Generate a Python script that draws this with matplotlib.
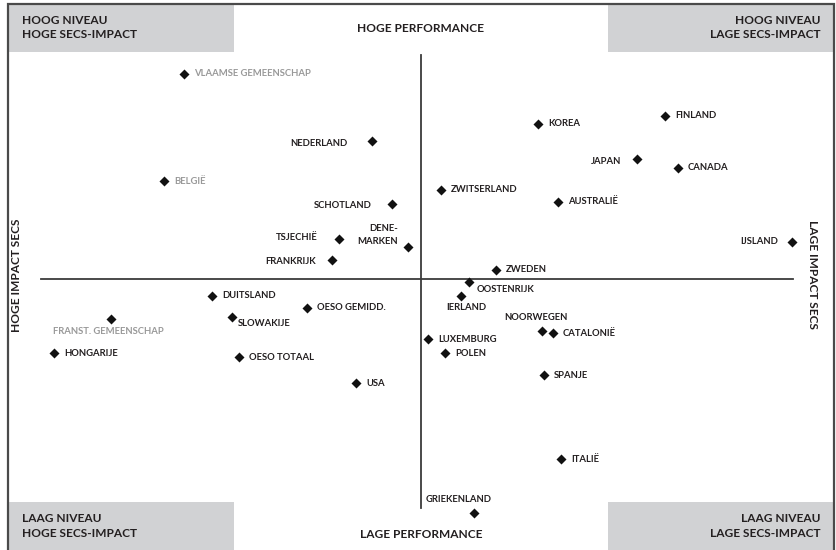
import matplotlib
matplotlib.use("Agg")
import matplotlib.pyplot as plt
from matplotlib.patches import Rectangle

plt.rcParams['font.family'] = ['Lato', 'DejaVu Sans']

# ======================= Data: SECS impact (x) vs performance (y) ======================================
countries = ['VLAAMSE GEMEENSCHAP', 'NEDERLAND', 'BELGIË', 'KOREA', 'FINLAND', 'JAPAN', 'CANADA',
             'ZWITSERLAND', 'AUSTRALIË', 'SCHOTLAND', 'TSJECHIË', 'DENE-\nMARKEN', 'FRANKRIJK',
             'IJSLAND', 'ZWEDEN', 'OOSTENRIJK', 'IERLAND', 'NOORWEGEN', 'CATALONIË', 'LUXEMBURG',
             'POLEN', 'SPANJE', 'DUITSLAND', 'OESO GEMIDD.', 'SLOWAKIJE', 'FRANST. GEMEENSCHAP',
             'HONGARIJE', 'OESO TOTAAL', 'USA', 'ITALIË', 'GRIEKENLAND']
impact = [-237, -49, -257, 117, 244, 216, 257,
          20, 137, -29, -82, -13, -89,
          371, 75, 48, 40, 121, 132, 7,
          24, 123, -209, -114, -189, -310,
          -367, -182, -65, 140, 53]
performance = [205, 138, 98, 155, 163, 120, 111,
               89, 77, 75, 40, 32, 19,
               37, 9, -3, -17, -52, -54, -60,
               -74, -96, -17, -29, -38, -40,
               -74, -78, -104, -180, -234]
grey_labels = ['VLAAMSE GEMEENSCHAP', 'BELGIË', 'FRANST. GEMEENSCHAP']

# label placement (offset in pixels, horizontal alignment); default is right of the marker
label_pos = {
    'NEDERLAND': (-24, -3, 'right'),
    'JAPAN': (-16, -2, 'right'),
    'SCHOTLAND': (-20, -1, 'right'),
    'TSJECHIË': (-21, 1, 'right'),
    'DENE-\nMARKEN': (-10, 12, 'right'),
    'FRANKRIJK': (-16, -1, 'right'),
    'IJSLAND': (-14, 0, 'right'),
    'OOSTENRIJK': (8, -7, 'left'),
    'IERLAND': (5, -11, 'center'),
    'NOORWEGEN': (-6, 13, 'center'),
    'SLOWAKIJE': (6, -6, 'left'),
    'FRANST. GEMEENSCHAP': (-3, -12, 'center'),
    'GRIEKENLAND': (-15, 14, 'center'),
}

x_min, x_max = -421, 416
y_min, y_max = -271, 279

fig = plt.figure(figsize=(8.37, 5.5), dpi=100)
ax = fig.add_axes([0, 0, 1, 1])
ax.set_xlim(x_min, x_max)
ax.set_ylim(y_min, y_max)
ax.axis('off')

# outer frame: left, top and right only
left, right, top = x_min + 7.5, x_max - 2.5, y_max - 3.5
ax.plot([left, left, right, right], [y_min, top, top, y_min], color='#4a4a4a', linewidth=1.6,
        solid_joinstyle='miter', zorder=5)

# corner boxes
box_w, box_h = 226, 48
grey = '#d1d2d4'
corners = [(left, top - box_h, 'HOOG NIVEAU\nHOGE SECS-IMPACT', 'left'),
           (right - box_w, top - box_h, 'HOOG NIVEAU\nLAGE SECS-IMPACT', 'right'),
           (left, y_min, 'LAAG NIVEAU\nHOGE SECS-IMPACT', 'left'),
           (right - box_w, y_min, 'LAAG NIVEAU\nLAGE SECS-IMPACT', 'right')]
for cx, cy, txt, ha in corners:
    ax.add_patch(Rectangle((cx, cy), box_w, box_h, facecolor=grey, edgecolor='none', zorder=1))
    tx = cx + 14 if ha == 'left' else cx + box_w - 14
    ax.text(tx, cy + box_h / 2, txt, ha=ha, va='center', fontsize=8.6, fontweight='bold',
            color='#231f20', linespacing=1.35, zorder=2)

# quadrant axes
ax.plot([-380, 372], [0, 0], color='#3c3c3c', linewidth=1.3, zorder=2)
ax.plot([0, 0], [-229, 224], color='#3c3c3c', linewidth=1.3, zorder=2)

ax.text(0, 250, 'HOGE PERFORMANCE', ha='center', va='center', fontsize=8.6,
        fontweight='bold', color='#231f20')
ax.text(0, -255, 'LAGE PERFORMANCE', ha='center', va='center', fontsize=8.6,
        fontweight='bold', color='#231f20')
ax.text(-405, 4, 'HOGE IMPACT SECS', ha='center', va='center', rotation=90, fontsize=8.6,
        fontweight='bold', color='#231f20')
ax.text(392, 4, 'LAGE IMPACT SECS', ha='center', va='center', rotation=-90, fontsize=8.6,
        fontweight='bold', color='#231f20')

# points and labels
ax.scatter(impact, performance, marker='D', s=26, color='#111111', zorder=4, linewidths=0)
for name, x, y in zip(countries, impact, performance):
    dx, dy, ha = label_pos.get(name, (10, 0, 'left'))
    col = '#999999' if name in grey_labels else '#231f20'
    ax.annotate(name, (x, y), xytext=(dx, dy), textcoords='offset pixels', ha=ha, va='center',
                fontsize=6.8, fontweight='bold', color=col, linespacing=1.5, zorder=4)

plt.savefig('out.png', dpi=100)
